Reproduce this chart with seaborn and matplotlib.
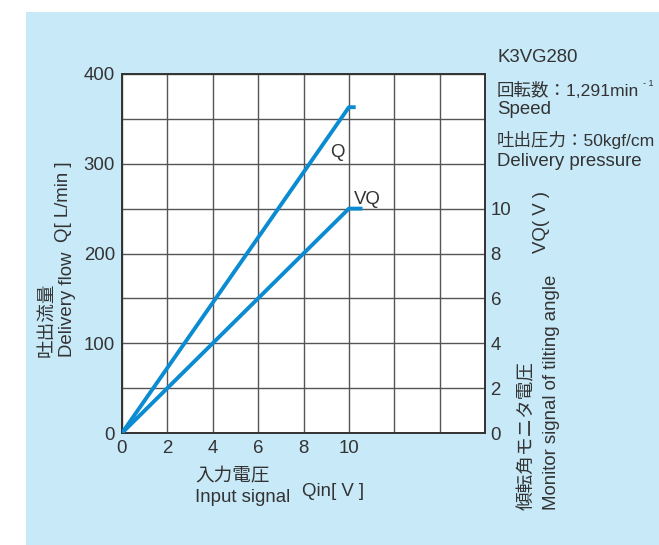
import matplotlib
matplotlib.use("Agg")
import matplotlib.pyplot as plt
from matplotlib.patches import Rectangle
import pandas as pd
import seaborn as sns

# delivery flow Q vs input signal
q_input = [0, 10, 10.3]
q_flow = [0, 363, 363]

# tilting-angle monitor voltage VQ vs input signal
vq_input = [0, 10, 10.6]
vq_volt = [0, 10, 10]

x_ticks = [0, 2, 4, 6, 8, 10]
y_ticks = [0, 100, 200, 300, 400]
vq_ticks = [0, 2, 4, 6, 8, 10]

BLUE = "#0a8bd2"
PANEL = "#c7e9f8"
INK = "#333333"
FS = 13.4
FS_NOTE = 12.6

sns.set_style("white")
plt.rcParams["font.family"] = ["Liberation Sans", "Noto Sans CJK JP", "DejaVu Sans"]
plt.rcParams["text.color"] = INK

fig = plt.figure(figsize=(6.59, 5.45), dpi=100)
fig.patch.set_facecolor("white")
fig.patches.append(Rectangle((26 / 659, 0), 1, 1 - 12 / 545, transform=fig.transFigure,
                             facecolor=PANEL, edgecolor="none", zorder=-10))

ax = fig.add_axes([122 / 659, 1 - 433 / 545, 363 / 659, 359 / 545])
ax.set_facecolor("white")

df_q = pd.DataFrame({"x": q_input, "y": q_flow})
sns.lineplot(data=df_q, x="x", y="y", ax=ax, color=BLUE, lw=2.8, sort=False,
             solid_capstyle="butt", zorder=3)

ax.set_xlim(0, 16)
ax.set_ylim(0, 400)
ax.set_xticks(range(0, 17, 2))
ax.set_yticks(range(0, 401, 50))
ax.set_xticklabels([str(v) if v in x_ticks else "" for v in range(0, 17, 2)])
ax.set_yticklabels([str(v) if v in y_ticks else "" for v in range(0, 401, 50)])
ax.grid(True, color="#555555", lw=1.0, zorder=1)
ax.set_axisbelow(True)
ax.tick_params(length=0, labelsize=FS, labelcolor=INK, pad=5)
ax.set_xlabel("")
ax.set_ylabel("")
for s in ax.spines.values():
    s.set_visible(True)
    s.set_color(INK)
    s.set_linewidth(1.4)

ax2 = ax.twinx()
df_vq = pd.DataFrame({"x": vq_input, "y": vq_volt})
sns.lineplot(data=df_vq, x="x", y="y", ax=ax2, color=BLUE, lw=2.8, sort=False,
             solid_capstyle="butt", zorder=3)
ax2.set_ylim(0, 16)
ax2.set_yticks(vq_ticks)
ax2.set_yticklabels([str(v) for v in vq_ticks])
ax2.tick_params(axis="y", length=0, labelsize=FS, labelcolor=INK, pad=4)
ax2.set_ylabel("")
ax2.grid(False)
for s in ax2.spines.values():
    s.set_visible(False)

# curve labels
ax.text(9.5, 313, "Q", fontsize=FS, ha="center", va="center")
ax.text(10.8, 260, "VQ", fontsize=FS, ha="center", va="center")

# left axis title
fig.text(47 / 659, 1 - 357 / 545, "吐出流量", rotation=90, fontsize=FS,
         ha="center", va="bottom")
fig.text(67 / 659, 1 - 357 / 545, "Delivery flow", rotation=90, fontsize=FS,
         ha="center", va="bottom")
fig.text(63 / 659, 1 - 242 / 545, "Q[ L/min ]", rotation=90, fontsize=FS,
         ha="center", va="bottom")

# right axis title
fig.text(527 / 659, 1 - 510 / 545, "傾転角モニタ電圧", rotation=90, fontsize=FS,
         ha="center", va="bottom")
fig.text(552 / 659, 1 - 510 / 545, "Monitor signal of tilting angle", rotation=90,
         fontsize=FS, ha="center", va="bottom")
fig.text(542 / 659, 1 - 253 / 545, "VQ( V )", rotation=90, fontsize=FS,
         ha="center", va="bottom")

# x axis title
fig.text(195 / 659, 1 - 477 / 545, "入力電圧", fontsize=FS, ha="left", va="center")
fig.text(195 / 659, 1 - 498 / 545, "Input signal", fontsize=FS, ha="left", va="center")
fig.text(302 / 659, 1 - 492 / 545, "Qin[ V ]", fontsize=FS, ha="left", va="center")

# conditions
fig.text(497 / 659, 1 - 57 / 545, "K3VG280", fontsize=FS, ha="left", va="center")
fig.text(497 / 659, 1 - 90 / 545, "回転数：1,291min", fontsize=FS_NOTE, ha="left", va="center")
fig.text(643 / 659, 1 - 84 / 545, "- 1", fontsize=6.5, ha="left", va="center")
fig.text(497 / 659, 1 - 110 / 545, "Speed", fontsize=FS, ha="left", va="center")
fig.text(497 / 659, 1 - 140 / 545, "吐出圧力：50kgf/cm", fontsize=FS_NOTE, ha="left", va="center")
fig.text(497 / 659, 1 - 162 / 545, "Delivery pressure", fontsize=FS, ha="left", va="center")

fig.savefig("out.png", dpi=100, facecolor=fig.get_facecolor())
